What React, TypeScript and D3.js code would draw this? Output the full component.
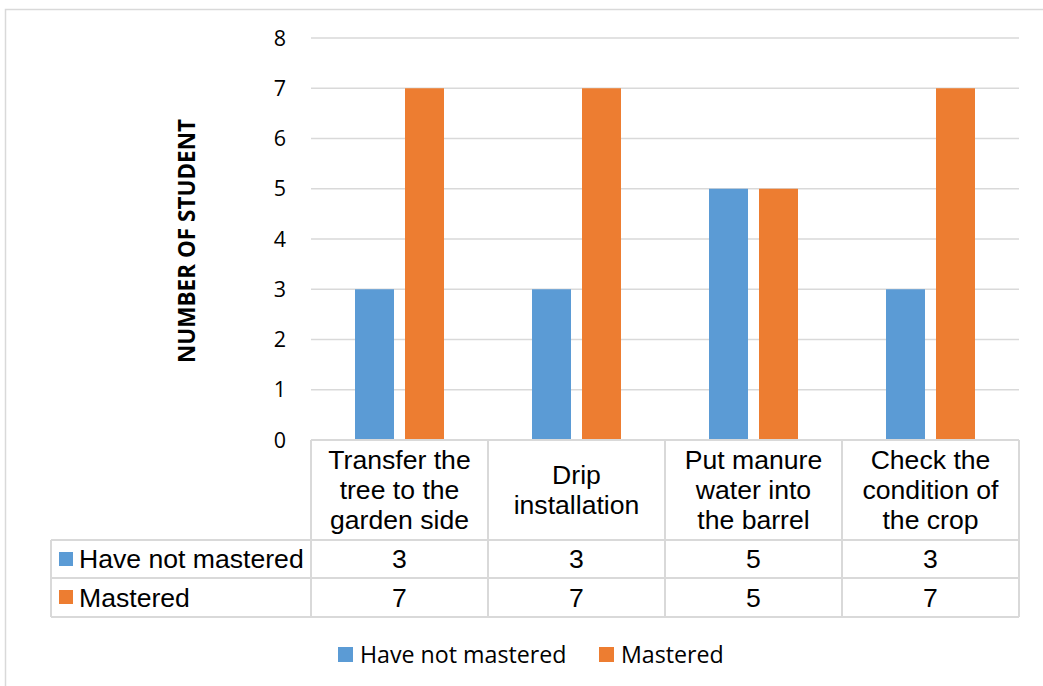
import React from "react";
import * as d3 from "d3";

const categories: string[][] = [
  ["Transfer the", "tree to the", "garden side"],
  ["Drip", "installation"],
  ["Put manure", "water into", "the barrel"],
  ["Check the", "condition of", "the crop"],
];
const seriesNames = ["Have not mastered", "Mastered"];
const haveNotMastered = [3, 3, 5, 3];
const mastered = [7, 7, 5, 7];
const yTicks = [0, 1, 2, 3, 4, 5, 6, 7, 8];
const colors = ["#5B9BD5", "#ED7D31"];

const W = 1043;
const H = 686;
const plotL = 311;
const plotR = 1019;
const plotT = 38;
const plotB = 440;
const tableL = 51;
const headerB = 540;
const row1B = 578;
const row2B = 617;
const grid = "#D9D9D9";
const tableFont = "'Liberation Sans', Arial, sans-serif";
const uiFont = "'Open Sans', sans-serif";

export default function App() {
  const series = [haveNotMastered, mastered];
  const idx = categories.map((_, i) => String(i));
  const x0 = d3.scaleBand<string>().domain(idx).range([plotL, plotR]).padding(0);
  const x1 = d3
    .scaleBand<string>()
    .domain(seriesNames)
    .range([0, x0.bandwidth()])
    .paddingInner(0.22)
    .paddingOuter(0.88);
  const y = d3.scaleLinear().domain([0, 8]).range([plotB, plotT]);
  const rowsB = [row1B, row2B];
  const rowsT = [headerB, row1B];

  return (
    <svg
      width={W}
      height={H}
      style={{ position: "absolute", left: 0, top: 0, background: "#fff" }}
    >
      <rect x={5.5} y={9.5} width={1060} height={700} fill="#fff" stroke={grid} strokeWidth={1.5} />
      {/* gridlines */}
      {yTicks.map((t) => (
        <line key={t} x1={plotL} x2={plotR} y1={y(t)} y2={y(t)} stroke={grid} strokeWidth={1.5} />
      ))}
      {/* y tick labels */}
      {yTicks.map((t) => (
        <text
          key={"l" + t}
          x={286}
          y={y(t)}
          dy="0.36em"
          textAnchor="end"
          fontFamily={uiFont}
          fontSize={21.5}
          fill="#000"
        >
          {t}
        </text>
      ))}
      {/* y axis title */}
      <text
        transform={`translate(195,241) rotate(-90)`}
        textAnchor="middle"
        fontFamily={uiFont}
        fontWeight="bold"
        fontSize={22.5}
        fill="#000"
      >
        NUMBER OF STUDENT
      </text>
      {/* bars */}
      {idx.map((c, i) =>
        series.map((s, j) => (
          <rect
            key={c + "-" + j}
            x={(x0(c) ?? 0) + (x1(seriesNames[j]) ?? 0)}
            y={y(s[i])}
            width={x1.bandwidth()}
            height={y(0) - y(s[i])}
            fill={colors[j]}
          />
        ))
      )}
      {/* data table lines */}
      <g stroke={grid} strokeWidth={2} fill="none">
        <line x1={plotL} x2={plotR} y1={plotB} y2={plotB} />
        <line x1={tableL} x2={plotR} y1={headerB} y2={headerB} />
        <line x1={tableL} x2={plotR} y1={row1B} y2={row1B} />
        <line x1={tableL} x2={plotR} y1={row2B} y2={row2B} />
        <line x1={tableL} x2={tableL} y1={headerB} y2={row2B} />
        {idx.map((c) => (
          <line key={"v" + c} x1={x0(c)} x2={x0(c)} y1={plotB} y2={row2B} />
        ))}
        <line x1={plotR} x2={plotR} y1={plotB} y2={row2B} />
      </g>
      {/* category labels */}
      {categories.map((lines, i) => {
        const cx = (x0(String(i)) ?? 0) + x0.bandwidth() / 2;
        const lh = 30;
        const first = (plotB + headerB) / 2 - ((lines.length - 1) * lh) / 2 + 8.5;
        return (
          <text
            key={"c" + i}
            textAnchor="middle"
            fontFamily={tableFont}
            fontSize={26.6}
            fill="#000"
          >
            {lines.map((ln, k) => (
              <tspan key={k} x={cx} y={first + k * lh}>
                {ln}
              </tspan>
            ))}
          </text>
        );
      })}
      {/* row headers and values */}
      {series.map((s, j) => (
        <g key={"row" + j}>
          <rect x={59} y={rowsT[j] + 12} width={14} height={14} fill={colors[j]} />
          <text
            x={79}
            y={rowsB[j] - 10.5}
            fontFamily={tableFont}
            fontSize={26.6}
            fill="#000"
          >
            {seriesNames[j]}
          </text>
          {s.map((v, i) => (
            <text
              key={i}
              x={(x0(String(i)) ?? 0) + x0.bandwidth() / 2}
              y={rowsB[j] - 10.5}
              textAnchor="middle"
              fontFamily={tableFont}
              fontSize={26.6}
              fill="#000"
            >
              {v}
            </text>
          ))}
        </g>
      ))}
      {/* bottom legend */}
      {[338, 599].map((lx, j) => (
        <g key={"lg" + j}>
          <rect x={lx} y={647} width={15} height={15} fill={colors[j]} />
          <text x={lx + 22} y={662.5} fontFamily={uiFont} fontSize={23.2} fill="#000">
            {seriesNames[j]}
          </text>
        </g>
      ))}
    </svg>
  );
}
